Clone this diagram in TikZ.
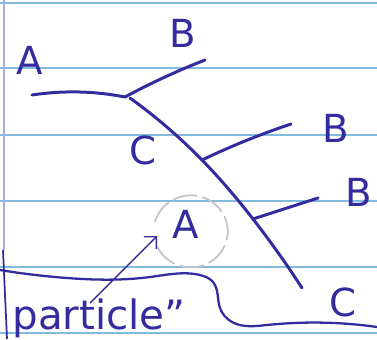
\documentclass[tikz,border=0pt]{standalone}
\usepackage{fontspec}
\setsansfont{DejaVu Sans}
\usetikzlibrary{hobby, arrows.meta}
\definecolor{ink}{RGB}{52,44,158}
\definecolor{rule}{RGB}{128,186,222}
\definecolor{marginline}{RGB}{176,168,226}
\definecolor{pencil}{RGB}{196,196,196}
\tikzset{
    inkline/.style={draw=ink, line width=1.7pt, line cap=round, line join=round},
    lbl/.style={text=ink, font=\sffamily\fontsize{22}{22}\selectfont, inner sep=0pt},
    note/.style={text=ink, font=\sffamily\fontsize{23}{23}\selectfont, inner sep=0pt},
    paperrule/.style={draw=rule, line width=1.5pt}
}

\begin{document}
\begin{tikzpicture}[x=0.02cm, y=-0.02cm, use Hobby shortcut]
        \useasboundingbox[fill=white] (0,0) rectangle (377,339);
        % ruled paper
        \foreach \y in {3,68,135,201,267,333}
            \draw[paperrule] (0,\y) -- (377,\y);
        \draw[marginline, line width=1.2pt] (4,0) -- (4,250);
        \draw[ink, line width=1pt] (3,250) -- (7,339);

        % junctions and free ends
        \coordinate (a)  at ( 32, 95);
        \coordinate (v1) at (125, 97);
        \coordinate (b1) at (205, 60);
        \coordinate (v2) at (202,160);
        \coordinate (b2) at (291,124);
        \coordinate (v3) at (253,219);
        \coordinate (b3) at (318,198);
        \coordinate (c)  at (302,288);

        \draw[inkline] (a)..(80,92)..(v1);
        \draw[inkline] (v1)..(165,77)..(b1);
        \draw[inkline] (130,98)..(v2)..(v3)..(c);
        \draw[inkline] (v2)..(245,141)..(b2);
        \draw[inkline] (v3)..(287,208)..(b3);

        \node[lbl] (A1) at ( 30, 60) {A};
        \node[lbl] (B1) at (183, 33) {B};
        \node[lbl] (C1) at (143,150) {C};
        \node[lbl] (B2) at (336,128) {B};
        \node[lbl] (B3) at (359,192) {B};
        \node[lbl] (C2) at (343,302) {C};

        % faint pencil ring
        \draw[pencil, line width=1pt, dash pattern=on 14pt off 3pt]
            (155,222) arc[start angle=195, end angle=520, x radius=37, y radius=36];
        \node[lbl] (A2) at (186,224) {A};

        % edge of the cut-out
        \draw[inkline, line width=1.3pt] (0,270)..(67,278)..(150,277)..(200,275)
            ..(213,282)..(220,308)..(232,322)..(267,325)..(377,327);

        \node[note, anchor=base west] (part) at (12,329) {particle''};
        \coordinate (tip) at (157,236);
        \draw[ink, line width=0.8pt, -{Straight Barb[length=5pt]}] (90,303) -- (tip);
    \end{tikzpicture}
\end{document}
